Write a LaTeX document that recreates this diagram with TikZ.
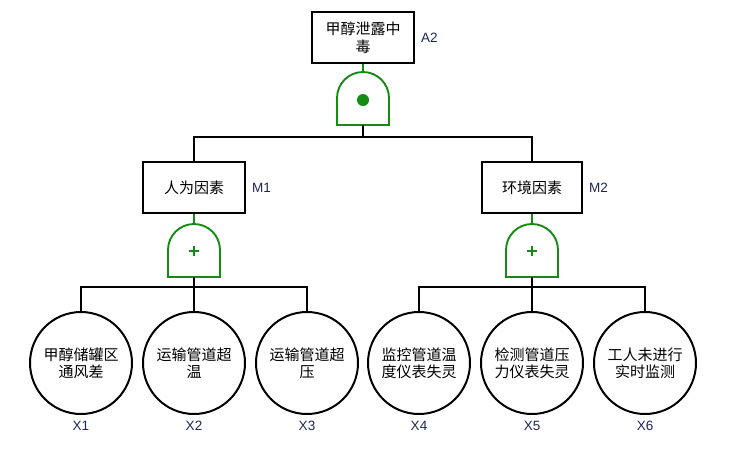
\documentclass[tikz,border=0pt]{standalone}
\usepackage{fontspec}
\setmainfont{Liberation Sans}
\newfontfamily\cjk{Noto Sans CJK SC}
\definecolor{gategreen}{RGB}{20,140,20}
\definecolor{labelblue}{RGB}{30,40,85}

\begin{document}
\begin{tikzpicture}[x=1pt, y=1pt,
    event/.style = {draw=black, line width=2pt, fill=white, minimum width=102pt,
                    minimum height=51pt, align=center, inner sep=2pt,
                    font=\cjk\fontsize{15}{18}\selectfont},
    basic/.style = {circle, draw=black, line width=2pt, minimum size=102pt,
                    align=center, inner sep=0pt, font=\cjk\fontsize{15}{17}\selectfont},
    gate/.style  = {draw=gategreen, line width=1.9pt},
    link/.style  = {draw=black, line width=2pt},
    tag/.style   = {text=labelblue, inner sep=0pt, font=\fontsize{13.5}{15}\selectfont}]
            \fill[white] (0,0) rectangle (731,-456);
            \useasboundingbox (0,0) rectangle (731,-456);

            % events
            \node[event] (top) at (363,-37.5) {甲醇泄露中\\毒};
            \node[event] (m1) at (194,-187.5) {人为因素};
            \node[event, minimum width=100pt] (m2) at (532,-187.5) {环境因素};
            \node[tag, anchor=west] (ta2) at (421,-38) {A2};
            \node[tag, anchor=west] (tm1) at (252,-188) {M1};
            \node[tag, anchor=west] (tm2) at (589,-188) {M2};

            % gates (top points)
            \coordinate (g0) at (363,-72);
            \coordinate (g1) at (194,-224);
            \coordinate (g2) at (532,-224);
            \coordinate (g0b) at (363,-125);
            \coordinate (g1b) at (194,-277);
            \coordinate (g2b) at (532,-277);
            \foreach \g in {g0,g1,g2}
                \draw[gate] (\g) ++(-26,-53) -- ++(0,27) arc (180:0:26) -- ++(0,-27) -- cycle;
            \fill[gategreen] (363,-100) circle (6);
            \draw[gategreen, line width=2pt] (189,-251) -- (199,-251) (194,-246) -- (194,-256);
            \draw[gategreen, line width=2pt] (527,-251) -- (537,-251) (532,-246) -- (532,-256);
            \draw[gate] (top.south) -- (g0);
            \draw[gate] (m1.south) -- (g1);
            \draw[gate] (m2.south) -- (g2);

            % basic events
            \node[basic] (x1) at (81,-363) {甲醇储罐区\\通风差};
            \node[basic] (x2) at (194,-363) {运输管道超\\温};
            \node[basic] (x3) at (307,-363) {运输管道超\\压};
            \node[basic] (x4) at (419,-363) {监控管道温\\度仪表失灵};
            \node[basic] (x5) at (532,-363) {检测管道压\\力仪表失灵};
            \node[basic] (x6) at (645,-363) {工人未进行\\实时监测};
            \foreach \i in {1,...,6}
                \node[tag] (tx\i) at ([yshift=-11pt]x\i.south) {X\i};

            % connectors
            \coordinate (j0) at (363,-137);
            \coordinate (j1) at (194,-287);
            \coordinate (j2) at (532,-287);
            \draw[link] (g0b) -- (j0);
            \draw[link] (m1.north) |- (j0) -| (m2.north);
            \draw[link] (g1b) -- (j1) -- (x2.north);
            \draw[link] (x1.north) |- (j1) -| (x3.north);
            \draw[link] (g2b) -- (j2) -- (x5.north);
            \draw[link] (x4.north) |- (j2) -| (x6.north);
        \end{tikzpicture}
\end{document}
